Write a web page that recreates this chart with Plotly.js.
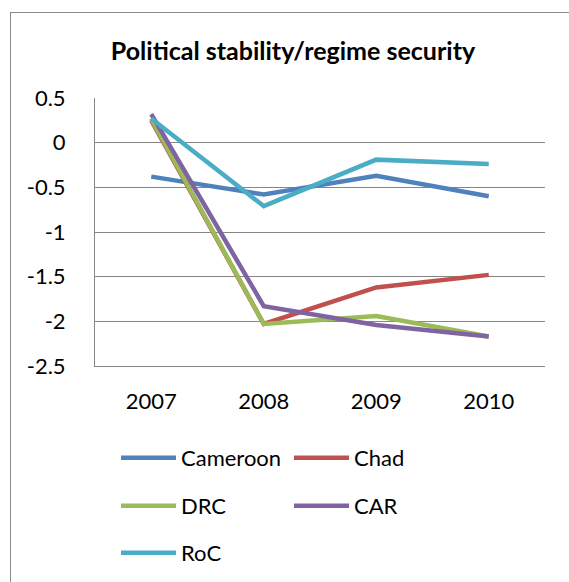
<!DOCTYPE html>
<html>
<head>
<meta charset="utf-8">
<script src="https://cdn.plot.ly/plotly-3.0.1.min.js"></script>
<style>
  html, body { margin: 0; padding: 0; background: #fff; overflow: hidden; }
  #wrap { position: relative; width: 569px; height: 582px; overflow: hidden; }
  #chart { position: absolute; left: 0; top: 0; width: 569px; height: 582px; }
  #frame { position: absolute; left: 10px; top: 12px; width: 700px; height: 700px;
           border-left: 1.5px solid #8A8A8A; border-top: 1.5px solid #8A8A8A; pointer-events: none; }
</style>
</head>
<body>
<div id="wrap">
<div id="chart"></div>
<div id="frame"></div>
</div>
<script>
const years = ['2007', '2008', '2009', '2010'];
const cameroon = [-0.38, -0.58, -0.37, -0.60];
const chad = [0.25, -2.03, -1.62, -1.48];
const drc = [0.27, -2.03, -1.94, -2.17];
const car = [0.32, -1.83, -2.04, -2.17];
const roc = [0.27, -0.71, -0.19, -0.24];
const seriesNames = ['Cameroon', 'Chad', 'DRC', 'CAR', 'RoC'];
const seriesColors = ['#4F81BD', '#C0504D', '#9BBB59', '#8064A2', '#4BACC6'];
const yTickVals = [0.5, 0, -0.5, -1, -1.5, -2, -2.5];
const yTickText = ['0.5', '0', '-0.5', '-1', '-1.5', '-2', '-2.5'];
const titleText = 'Political stability/regime security';

const seriesValues = [cameroon, chad, drc, car, roc];
const legendIds = ['legend', 'legend', 'legend2', 'legend2', 'legend3'];

const traces = seriesValues.map((vals, i) => ({
  type: 'scatter',
  mode: 'lines',
  x: years,
  y: vals,
  name: seriesNames[i],
  legend: legendIds[i],
  line: { color: seriesColors[i], width: 4.5 },
  hoverinfo: 'skip'
}));

const font = { family: 'Lato, "Open Sans", sans-serif', size: 22, color: '#000' };
const legendBase = {
  orientation: 'h',
  xref: 'container', yref: 'container',
  x: 116 / 569, xanchor: 'left',
  yanchor: 'middle',
  entrywidth: 103, entrywidthmode: 'pixels',
  itemwidth: 55,
  font: font,
  bgcolor: 'rgba(0,0,0,0)',
  traceorder: 'normal'
};

const layout = {
  width: 569, height: 582,
  margin: { l: 95, r: 24, t: 98, b: 216, pad: 0 },
  paper_bgcolor: 'rgba(0,0,0,0)', plot_bgcolor: 'rgba(0,0,0,0)',
  font: font,
  title: {
    text: '<b>' + titleText + '</b>',
    font: { family: 'Lato, "Open Sans", sans-serif', size: 25, color: '#000' },
    xref: 'container', x: 293 / 569, xanchor: 'center',
    yref: 'container', y: 1 - 51 / 582, yanchor: 'middle'
  },
  xaxis: {
    type: 'category',
    range: [-0.5, 3.5],
    showgrid: false,
    showline: true, linecolor: '#868686', linewidth: 1,
    ticks: '',
    ticklabelstandoff: 16,
    tickfont: font,
    fixedrange: true
  },
  yaxis: {
    range: [-2.5, 0.5],
    tickvals: yTickVals,
    ticktext: yTickText,
    showgrid: true, gridcolor: '#868686', gridwidth: 1,
    zeroline: false,
    showline: true, linecolor: '#868686', linewidth: 1,
    ticks: '',
    ticklabelstandoff: 24,
    tickfont: font,
    fixedrange: true
  },
  showlegend: true,
  legend: Object.assign({}, legendBase, { y: 1 - 458 / 582 }),
  legend2: Object.assign({}, legendBase, { y: 1 - 506 / 582 }),
  legend3: Object.assign({}, legendBase, { y: 1 - 553 / 582 })
};

Plotly.newPlot('chart', traces, layout, { displayModeBar: false, staticPlot: true });
</script>
</body>
</html>
